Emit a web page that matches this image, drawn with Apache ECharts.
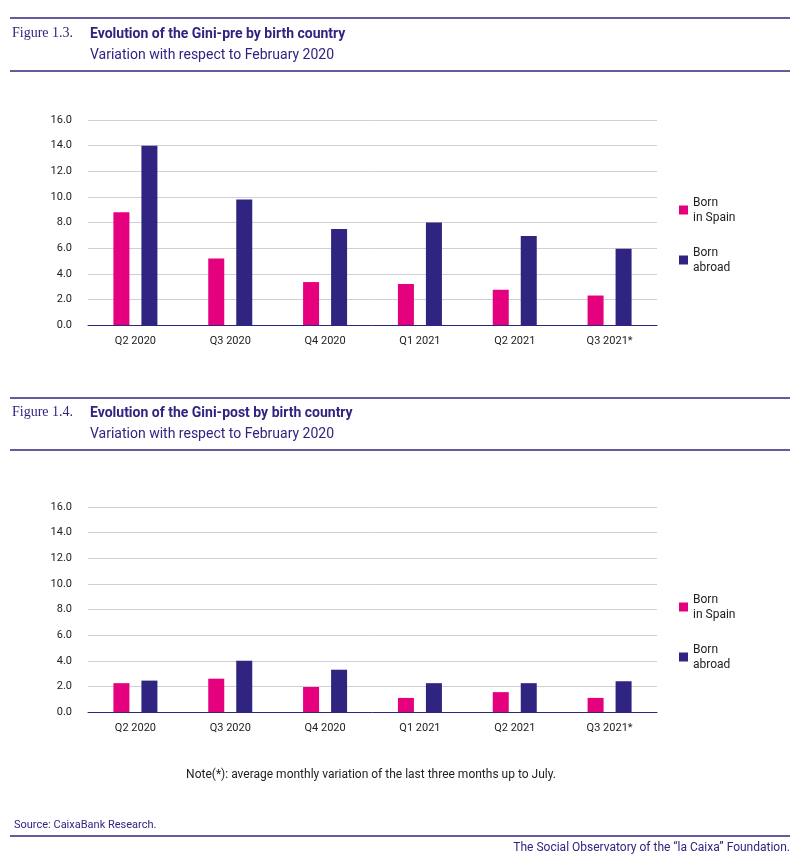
<!DOCTYPE html>
<html>
<head>
<meta charset="utf-8">
<script src="https://cdn.jsdelivr.net/npm/echarts@6/dist/echarts.min.js"></script>
<style>body{margin:0;background:#fff}</style>
</head>
<body>
<div id="main" style="width:800px;height:862px;"></div>
<script>
var quarters = ['Q2 2020', 'Q3 2020', 'Q4 2020', 'Q1 2021', 'Q2 2021', 'Q3 2021*'];
// Gini-pre
var preSpain = [8.8, 5.2, 3.35, 3.2, 2.75, 2.3];
var preAbroad = [14.0, 9.8, 7.5, 8.0, 6.95, 5.95];
// Gini-post
var postSpain = [2.25, 2.6, 1.95, 1.1, 1.55, 1.1];
var postAbroad = [2.45, 4.0, 3.3, 2.25, 2.25, 2.4];

var pink = '#e5007d', purple = '#2f2580', dark = '#2f2580';
var chart = echarts.init(document.getElementById('main'));
var font = 'Roboto, Liberation Sans, sans-serif';

function hline(y, x1, x2, w) {
    return { type: 'line', shape: { x1: x1, y1: y, x2: x2, y2: y }, style: { stroke: dark, lineWidth: w || 1.5 } };
}
function txt(x, y, t, size, weight, fam, color) {
    return { type: 'text', x: x, y: y, style: { text: t, fontSize: size, fontWeight: weight || 'normal', fontFamily: fam || font, fill: color || dark } };
}
function xAx(i) {
    return { type: 'category', gridIndex: i, data: quarters,
        axisLine: { lineStyle: { color: dark, width: 1 } }, axisTick: { show: false },
        axisLabel: { color: '#222', fontSize: 11, fontFamily: font, margin: 11 } };
}
function yAx(i) {
    return { type: 'value', gridIndex: i, min: 0, max: 16, interval: 2,
        axisLine: { show: false }, axisTick: { show: false },
        axisLabel: { color: '#222', fontSize: 11, fontFamily: font, margin: 16,
            formatter: function (v) { return v.toFixed(1); } },
        splitLine: { lineStyle: { color: '#cfcfd8' } } };
}
function bar(name, data, color, i) {
    return { name: name, type: 'bar', xAxisIndex: i, yAxisIndex: i, data: data,
        barWidth: 16, barGap: '75%', itemStyle: { color: color } };
}
function legend(top) {
    return { orient: 'vertical', left: 674, top: top, itemWidth: 9, itemHeight: 9, itemGap: 20,
        icon: 'rect', textStyle: { fontSize: 12, fontFamily: font, color: '#222', lineHeight: 15 },
        data: ['Born\nin Spain', 'Born\nabroad'] };
}

chart.setOption({
    animation: false,
    grid: [
        { left: 88, right: 143, top: 120, height: 205 },
        { left: 88, right: 143, top: 507, height: 205 }
    ],
    xAxis: [xAx(0), xAx(1)],
    yAxis: [yAx(0), yAx(1)],
    legend: [legend(190), legend(587)],
    series: [
        bar('Born\nin Spain', preSpain, pink, 0),
        bar('Born\nabroad', preAbroad, purple, 0),
        bar('Born\nin Spain', postSpain, pink, 1),
        bar('Born\nabroad', postAbroad, purple, 1)
    ],
    graphic: [
        hline(18, 10, 790), hline(71, 10, 790),
        txt(12, 26, 'Figure 1.3.', 14, 'normal', 'Liberation Serif, serif'),
        txt(90, 27, 'Evolution of the Gini-pre by birth country', 14, 'bold'),
        txt(90, 48, 'Variation with respect to February 2020', 14),
        hline(398, 10, 790), hline(450, 10, 790),
        txt(12, 405, 'Figure 1.4.', 14, 'normal', 'Liberation Serif, serif'),
        txt(90, 406, 'Evolution of the Gini-post by birth country', 14, 'bold'),
        txt(90, 427, 'Variation with respect to February 2020', 14),
        { type: 'text', x: 371, y: 769, style: { text: 'Note(*): average monthly variation of the last three months up to July.', fontSize: 12, fontFamily: font, fill: '#222', align: 'center' } },
        txt(14, 820, 'Source: CaixaBank Research.', 11, 'normal', font),
        hline(836, 10, 790),
        { type: 'text', x: 790, y: 842, style: { text: 'The Social Observatory of the \u201cla Caixa\u201d Foundation.', fontSize: 12, fontFamily: font, fill: dark, align: 'right' } }
    ]
});
</script>
</body>
</html>
